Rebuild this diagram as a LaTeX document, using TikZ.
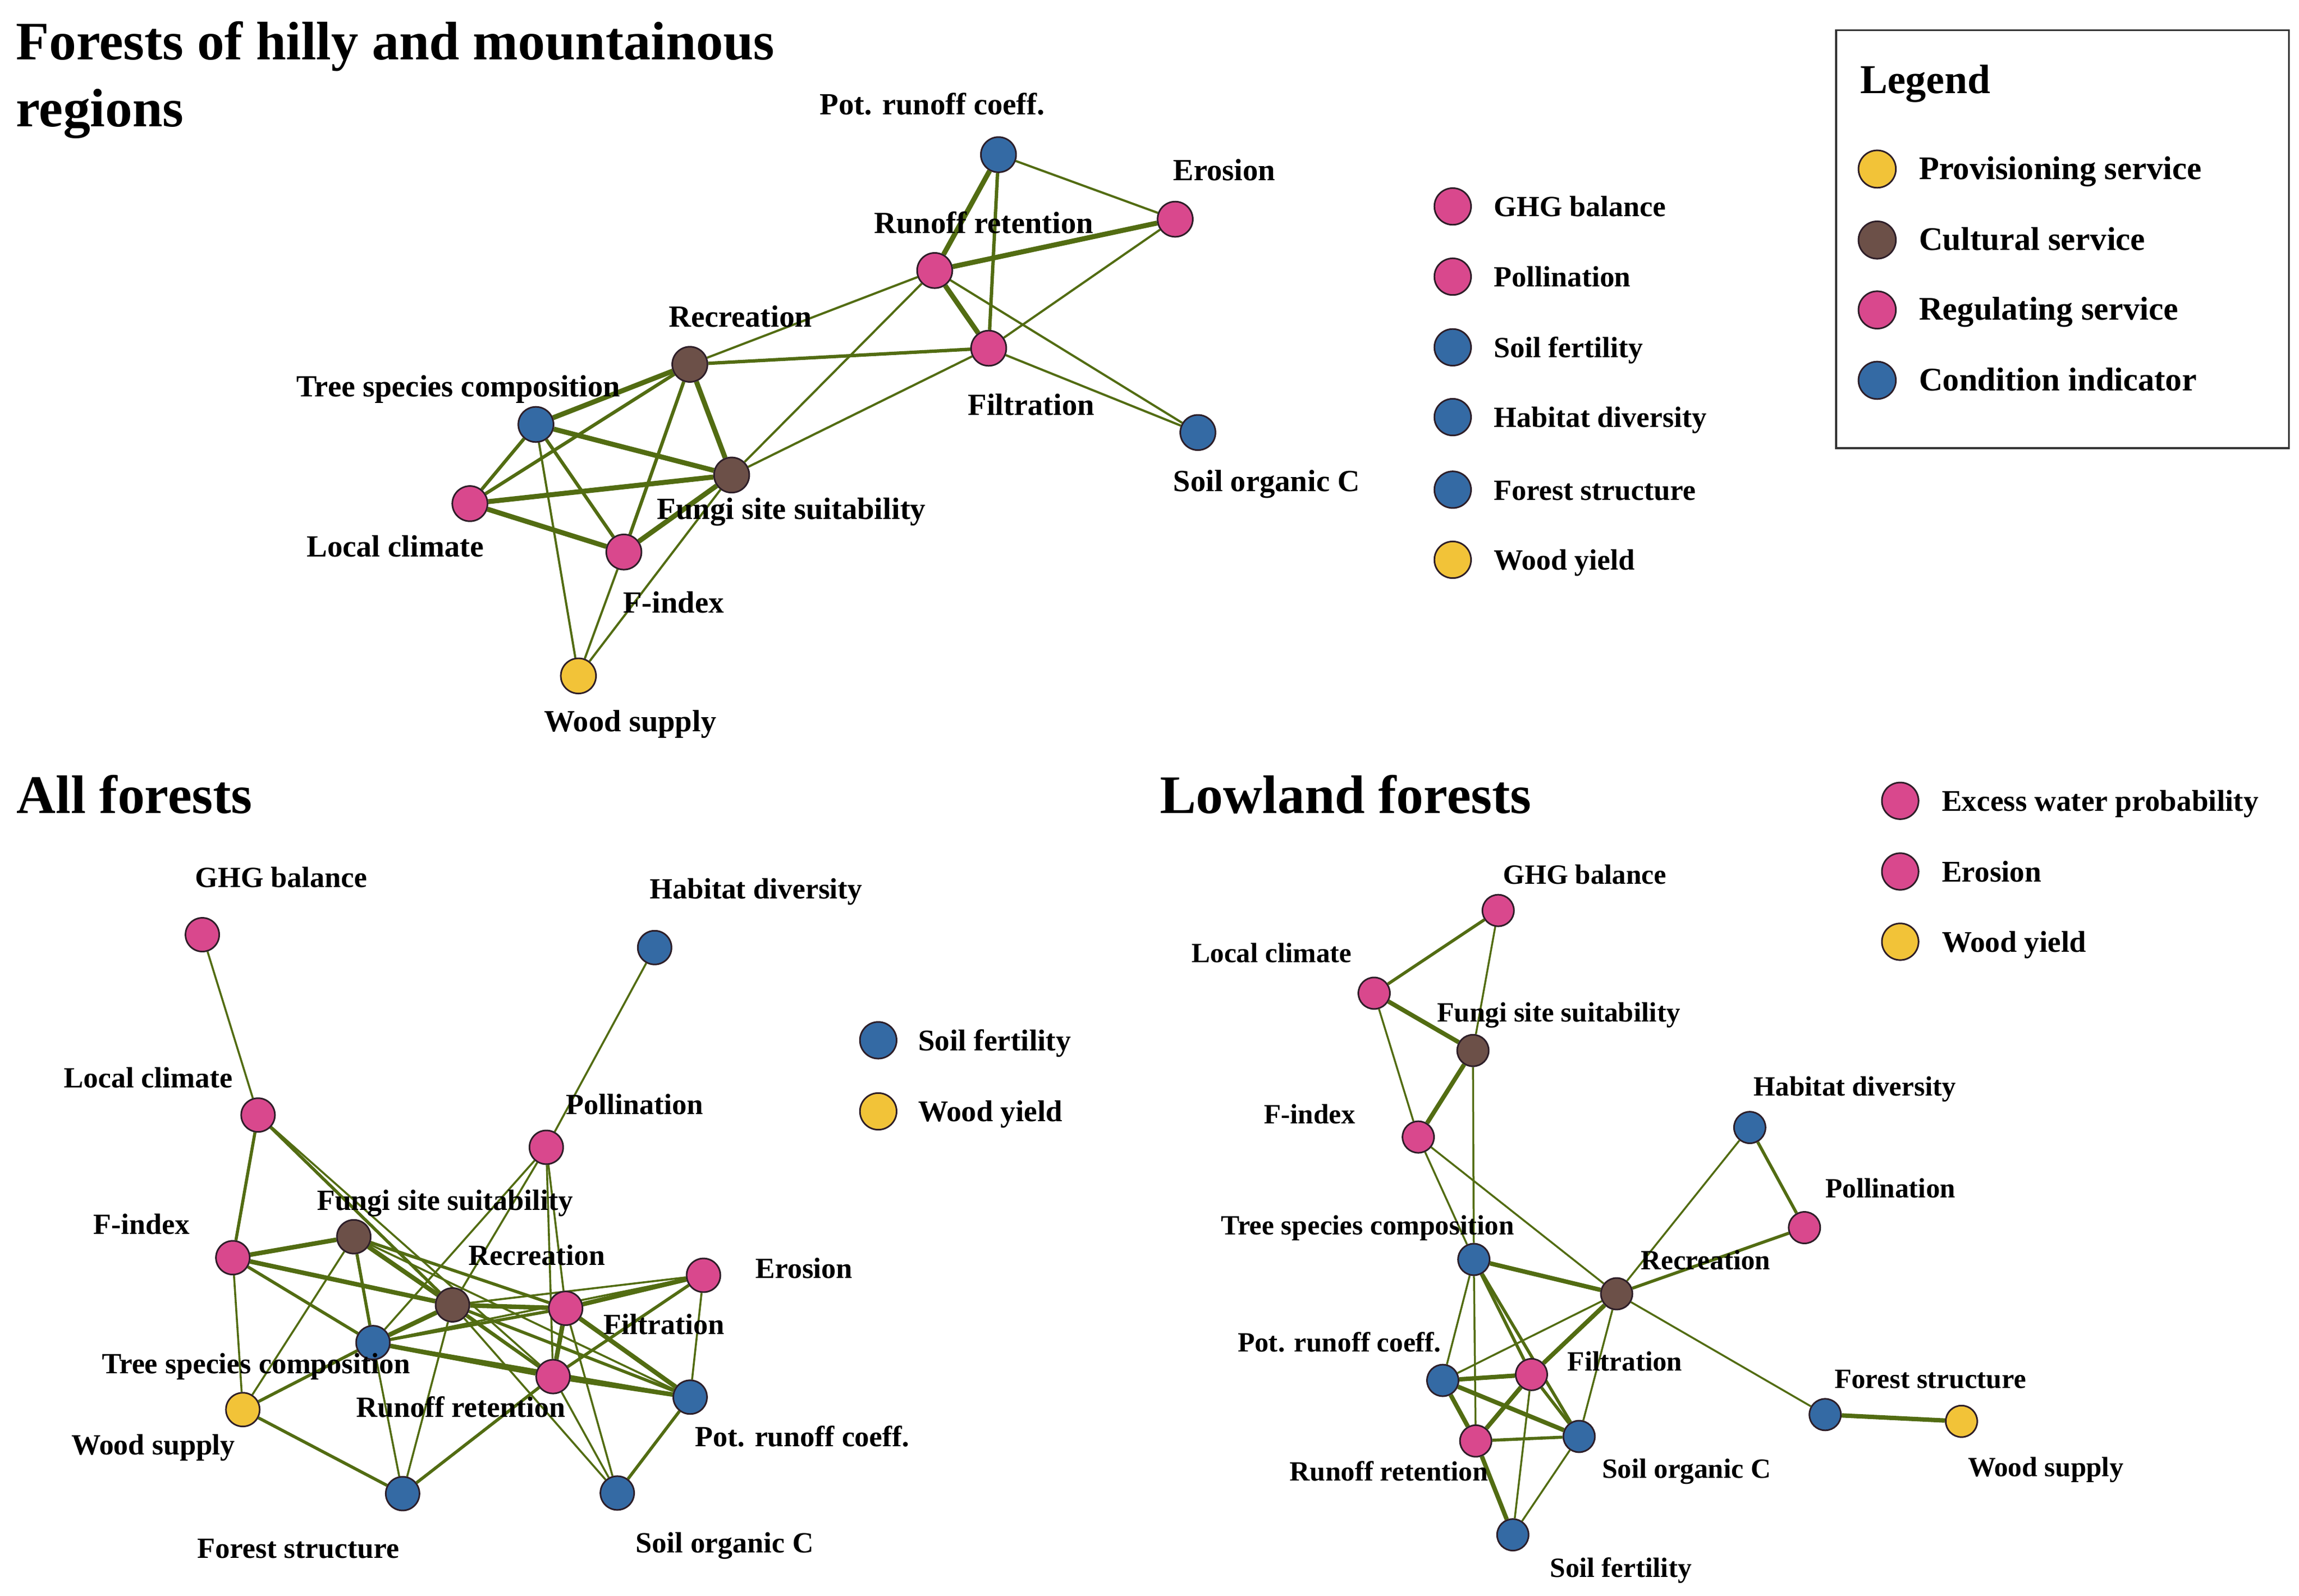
\documentclass[tikz,border=0pt]{standalone}
\usepackage{fontspec}
\setmainfont{Liberation Serif}
\usetikzlibrary{backgrounds}
\definecolor{pinkc}{RGB}{217,72,141}
\definecolor{bluec}{RGB}{52,106,164}
\definecolor{brownc}{RGB}{108,80,72}
\definecolor{yellowc}{RGB}{242,195,56}
\definecolor{edgec}{RGB}{82,108,18}
\definecolor{borderc}{RGB}{45,30,40}
\newcommand\myfs[1]{\fontsize{#1}{#1}\selectfont}
\begin{document}
\begin{tikzpicture}[x=1pt,y=-1pt,
  vtx/.style={circle, draw=borderc, line width=1.1pt, inner sep=0pt, minimum size=24pt},
  nreg/.style={vtx, fill=pinkc},
  ncond/.style={vtx, fill=bluec},
  ncult/.style={vtx, fill=brownc},
  nprov/.style={vtx, fill=yellowc},
  lbl/.style={anchor=base west, inner sep=0pt, text=black},
  ethin/.style={draw=edgec, line width=1.5pt},
  emed/.style={draw=edgec, line width=2.3pt},
  ethick/.style={draw=edgec, line width=3.4pt},
  ttl/.style={lbl, font=\bfseries\myfs{37}}
]
\useasboundingbox (0,0) rectangle (1568,1088.2);
\begin{pgfonlayer}{background}
\fill[white] (0,0) rectangle (1568,1088.2);
\end{pgfonlayer}

% ---------- titles ----------
\node[ttl] (title1) at (10.7,40.6) {Forests of hilly and mountainous};
\node[ttl] (title1b) at (10.7,86.2) {regions};
\node[ttl] (title2) at (11.2,554.6) {All forests};
\node[ttl] (title3) at (791,554.5) {Lowland forests};

% ---------- top graph ----------
\begin{scope}[font=\bfseries\myfs{21}]
\node[ncond] (t-pot) at (681,105.5) {};
\node[nreg]  (t-ero) at (801.5,149.5) {};
\node[nreg]  (t-rr)  at (637.5,184.5) {};
\node[nreg]  (t-fil) at (674.3,237.5) {};
\node[ncond] (t-soc) at (817,295) {};
\node[ncult] (t-rec) at (470.5,248.5) {};
\node[ncond] (t-tsc) at (365.5,289.5) {};
\node[ncult] (t-fun) at (499,324) {};
\node[nreg]  (t-lc)  at (320.5,343.5) {};
\node[nreg]  (t-fi)  at (425.5,376.5) {};
\node[nprov] (t-ws)  at (394.5,461) {};
\node[lbl] (t-pot-l) at (559,78) {Pot. runoff coeff.};
\node[lbl] (t-ero-l) at (800,123) {Erosion};
\node[lbl] (t-rr-l)  at (596,159) {Runoff retention};
\node[lbl] (t-fil-l) at (660,283) {Filtration};
\node[lbl] (t-soc-l) at (800,335) {Soil organic C};
\node[lbl] (t-rec-l) at (456,223) {Recreation};
\node[lbl] (t-tsc-l) at (202,270.6) {Tree species composition};
\node[lbl] (t-fun-l) at (448,354) {Fungi site suitability};
\node[lbl] (t-lc-l)  at (209,379.6) {Local climate};
\node[lbl] (t-fi-l)  at (424.7,418) {F-index};
\node[lbl] (t-ws-l)  at (371,499) {Wood supply};
\begin{pgfonlayer}{background}
\draw[ethick] (t-pot) -- (t-rr);
\draw[ethick] (t-ero) -- (t-rr);
\draw[ethick] (t-rr) -- (t-fil);
\draw[ethick] (t-rec) -- (t-tsc);
\draw[ethick] (t-rec) -- (t-fun);
\draw[ethick] (t-tsc) -- (t-fun);
\draw[ethick] (t-lc) -- (t-fun);
\draw[ethick] (t-lc) -- (t-fi);
\draw[ethick] (t-fi) -- (t-fun);
\draw[emed] (t-pot) -- (t-fil);
\draw[emed] (t-rec) -- (t-fil);
\draw[emed] (t-rec) -- (t-lc);
\draw[emed] (t-rec) -- (t-fi);
\draw[emed] (t-tsc) -- (t-lc);
\draw[emed] (t-tsc) -- (t-fi);
\draw[ethin] (t-pot) -- (t-ero);
\draw[ethin] (t-ero) -- (t-fil);
\draw[ethin] (t-rr) -- (t-soc);
\draw[ethin] (t-fil) -- (t-soc);
\draw[ethin] (t-rr) -- (t-rec);
\draw[ethin] (t-rr) -- (t-fun);
\draw[ethin] (t-fil) -- (t-fun);
\draw[ethin] (t-tsc) -- (t-ws);
\draw[ethin] (t-fi) -- (t-ws);
\draw[ethin] (t-fun) -- (t-ws);
\end{pgfonlayer}
\end{scope}

% ---------- middle legend (top) ----------
\begin{scope}[font=\bfseries\myfs{20}, vtx/.append style={minimum size=25pt}]
\node[nreg]  (m1) at (990.8,140.8) {};
\node[nreg]  (m2) at (990.8,188.7) {};
\node[ncond] (m3) at (990.8,236.9) {};
\node[ncond] (m4) at (990.8,284.5) {};
\node[ncond] (m5) at (990.8,334) {};
\node[nprov] (m6) at (990.8,381.8) {};
\node[lbl] (m1-l) at (1018.7,147.8) {GHG balance};
\node[lbl] (m2-l) at (1018.7,195.7) {Pollination};
\node[lbl] (m3-l) at (1018.7,243.9) {Soil fertility};
\node[lbl] (m4-l) at (1018.7,291.5) {Habitat diversity};
\node[lbl] (m5-l) at (1018.7,341) {Forest structure};
\node[lbl] (m6-l) at (1018.7,388.8) {Wood yield};
\end{scope}

% ---------- main legend ----------
\draw[line width=1.3pt, draw=black!80] (1252.3,20.6) rectangle (1561.2,305.6);
\node[lbl, font=\bfseries\myfs{28}] (leg-t) at (1268.5,63.8) {Legend};
\begin{scope}[font=\bfseries\myfs{22.5}, vtx/.append style={minimum size=25.5pt}]
\node[nprov] (g1) at (1280.3,115.3) {};
\node[ncult] (g2) at (1280.3,163.7) {};
\node[nreg]  (g3) at (1280.3,211.4) {};
\node[ncond] (g4) at (1280.3,259.4) {};
\node[lbl] (g1-l) at (1308.6,122.2) {Provisioning service};
\node[lbl] (g2-l) at (1308.6,170.6) {Cultural service};
\node[lbl] (g3-l) at (1308.6,218.3) {Regulating service};
\node[lbl] (g4-l) at (1308.6,266.3) {Condition indicator};
\end{scope}

% ---------- all forests ----------
\begin{scope}[font=\bfseries\myfs{20}, vtx/.append style={minimum size=23pt},
  ethin/.style={draw=edgec, line width=1.35pt},
  emed/.style={draw=edgec, line width=2.1pt},
  ethick/.style={draw=edgec, line width=3.1pt}]
\node[nreg]  (a-ghg) at (138,637.5) {};
\node[ncond] (a-hab) at (446.5,646.3) {};
\node[nreg]  (a-lc)  at (176,760.5) {};
\node[nreg]  (a-pol) at (372.6,782.5) {};
\node[nreg]  (a-fi)  at (158.8,857.8) {};
\node[ncult] (a-fun) at (241.3,843.5) {};
\node[ncult] (a-rec) at (308.6,890) {};
\node[nreg]  (a-fil) at (385.8,892.3) {};
\node[nreg]  (a-ero) at (479.8,869.8) {};
\node[ncond] (a-tsc) at (254.4,915.7) {};
\node[nreg]  (a-rr)  at (377.2,938.9) {};
\node[ncond] (a-pot) at (470.7,952.9) {};
\node[nprov] (a-ws)  at (165.6,961.4) {};
\node[ncond] (a-fs)  at (274.6,1018.7) {};
\node[ncond] (a-soc) at (421,1018.3) {};
\node[lbl] (a-ghg-l) at (133,605) {GHG balance};
\node[lbl] (a-hab-l) at (443,613) {Habitat diversity};
\node[lbl] (a-lc-l)  at (43.5,742) {Local climate};
\node[lbl] (a-pol-l) at (386,760) {Pollination};
\node[lbl] (a-fi-l)  at (63.6,841.8) {F-index};
\node[lbl] (a-fun-l) at (216,825.4) {Fungi site suitability};
\node[lbl] (a-rec-l) at (319.5,863) {Recreation};
\node[lbl] (a-ero-l) at (515,872) {Erosion};
\node[lbl] (a-fil-l) at (411.6,910) {Filtration};
\node[lbl] (a-tsc-l) at (69.3,937) {Tree species composition};
\node[lbl] (a-rr-l)  at (243,966.6) {Runoff retention};
\node[lbl] (a-pot-l) at (474,986.6) {Pot. runoff coeff.};
\node[lbl] (a-ws-l)  at (48.5,992) {Wood supply};
\node[lbl] (a-fs-l)  at (134.5,1062.7) {Forest structure};
\node[lbl] (a-soc-l) at (433.5,1059) {Soil organic C};
\begin{pgfonlayer}{background}
\draw[ethin] (a-ghg) -- (a-lc);
\draw[ethin] (a-hab) -- (a-pol);
\draw[ethin] (a-fi) -- (a-ws);
\draw[ethin] (a-fun) -- (a-ws);
\draw[ethin] (a-tsc) -- (a-fs);
\draw[ethin] (a-tsc) -- (a-pol);
\draw[ethin] (a-rec) -- (a-pol);
\draw[ethin] (a-rec) -- (a-fs);
\draw[ethin] (a-fil) -- (a-soc);
\draw[ethin] (a-pol) -- (a-fil);
\draw[ethin] (a-pol) -- (a-rr);
\draw[ethin] (a-ero) -- (a-pot);
\draw[ethin] (a-ero) -- (a-rec);
\draw[ethin] (a-ero) -- (a-tsc);
\draw[ethin] (a-rr) -- (a-soc);
\draw[ethin] (a-rec) -- (a-soc);
\draw[ethin] (a-fun) -- (a-pot);
\draw[ethin] (a-lc) -- (a-rr);
\draw[emed] (a-lc) -- (a-fi);
\draw[emed] (a-lc) -- (a-rec);
\draw[emed] (a-fi) -- (a-tsc);
\draw[emed] (a-fun) -- (a-tsc);
\draw[emed] (a-fun) -- (a-fil);
\draw[emed] (a-fun) -- (a-rr);
\draw[emed] (a-tsc) -- (a-ws);
\draw[emed] (a-ws) -- (a-fs);
\draw[emed] (a-tsc) -- (a-fil);
\draw[emed] (a-rec) -- (a-pot);
\draw[emed] (a-rec) -- (a-rr);
\draw[emed] (a-rr) -- (a-ero);
\draw[emed] (a-rr) -- (a-fs);
\draw[emed] (a-pot) -- (a-soc);
\draw[emed] (a-tsc) -- (a-pot);
\draw[ethick] (a-fi) -- (a-fun);
\draw[ethick] (a-fi) -- (a-rec);
\draw[ethick] (a-fun) -- (a-rec);
\draw[ethick] (a-tsc) -- (a-rec);
\draw[ethick] (a-rec) -- (a-fil);
\draw[ethick] (a-fil) -- (a-ero);
\draw[ethick] (a-fil) -- (a-pot);
\draw[ethick] (a-fil) -- (a-rr);
\draw[ethick] (a-rr) -- (a-pot);
\draw[ethick] (a-tsc) -- (a-rr);
\end{pgfonlayer}
\end{scope}

% ---------- all forests legend ----------
\begin{scope}[font=\bfseries\myfs{20.5}, vtx/.append style={minimum size=25pt}]
\node[ncond] (b1) at (599,709.5) {};
\node[nprov] (b2) at (599,758) {};
\node[lbl] (b1-l) at (626,716.5) {Soil fertility};
\node[lbl] (b2-l) at (626,765) {Wood yield};
\end{scope}

% ---------- lowland forests ----------
\begin{scope}[font=\bfseries\myfs{19}, vtx/.append style={minimum size=21.5pt},
  ethin/.style={draw=edgec, line width=1.3pt},
  emed/.style={draw=edgec, line width=2.1pt},
  ethick/.style={draw=edgec, line width=3.0pt}]
\node[nreg]  (l-ghg) at (1021.8,621) {};
\node[nreg]  (l-lc)  at (937.2,677.4) {};
\node[ncult] (l-fun) at (1004.6,716.5) {};
\node[nreg]  (l-fi)  at (967.3,775.5) {};
\node[ncond] (l-hab) at (1193.4,769) {};
\node[nreg]  (l-pol) at (1230.7,837.3) {};
\node[ncond] (l-tsc) at (1005.2,859) {};
\node[ncult] (l-rec) at (1102.6,882.4) {};
\node[ncond] (l-pot) at (984,941.5) {};
\node[nreg]  (l-fil) at (1044.5,937.5) {};
\node[nreg]  (l-rr)  at (1006.5,982.8) {};
\node[ncond] (l-soc) at (1077,979.7) {};
\node[ncond] (l-sf)  at (1031.8,1046.8) {};
\node[ncond] (l-fs)  at (1244.8,964.8) {};
\node[nprov] (l-ws)  at (1337.8,969.4) {};
\node[lbl] (l-ghg-l) at (1025,603) {GHG balance};
\node[lbl] (l-lc-l)  at (812.6,656.5) {Local climate};
\node[lbl] (l-fun-l) at (980,697) {Fungi site suitability};
\node[lbl] (l-fi-l)  at (861.8,766.4) {F-index};
\node[lbl] (l-hab-l) at (1196,747.5) {Habitat diversity};
\node[lbl] (l-pol-l) at (1244.8,817) {Pollination};
\node[lbl] (l-tsc-l) at (832.7,842) {Tree species composition};
\node[lbl] (l-rec-l) at (1119,866) {Recreation};
\node[lbl] (l-pot-l) at (844,922) {Pot. runoff coeff.};
\node[lbl] (l-fil-l) at (1069,935) {Filtration};
\node[lbl] (l-fs-l)  at (1251,947) {Forest structure};
\node[lbl] (l-rr-l)  at (879.5,1010) {Runoff retention};
\node[lbl] (l-soc-l) at (1092.5,1008) {Soil organic C};
\node[lbl] (l-ws-l)  at (1342,1007) {Wood supply};
\node[lbl] (l-sf-l)  at (1057,1075.6) {Soil fertility};
\begin{pgfonlayer}{background}
\draw[ethin] (l-ghg) -- (l-fun);
\draw[ethin] (l-lc) -- (l-fi);
\draw[ethin] (l-fun) -- (l-tsc);
\draw[ethin] (l-fi) -- (l-tsc);
\draw[ethin] (l-fi) -- (l-rec);
\draw[ethin] (l-hab) -- (l-rec);
\draw[ethin] (l-tsc) -- (l-pot);
\draw[ethin] (l-tsc) -- (l-rr);
\draw[ethin] (l-rec) -- (l-pot);
\draw[ethin] (l-rec) -- (l-soc);
\draw[ethin] (l-rec) -- (l-fs);
\draw[ethin] (l-fil) -- (l-sf);
\draw[ethin] (l-soc) -- (l-sf);
\draw[emed] (l-ghg) -- (l-lc);
\draw[emed] (l-hab) -- (l-pol);
\draw[emed] (l-pol) -- (l-rec);
\draw[emed] (l-tsc) -- (l-fil);
\draw[emed] (l-tsc) -- (l-soc);
\draw[emed] (l-fil) -- (l-soc);
\draw[emed] (l-rr) -- (l-soc);
\draw[ethick] (l-lc) -- (l-fun);
\draw[ethick] (l-fun) -- (l-fi);
\draw[ethick] (l-tsc) -- (l-rec);
\draw[ethick] (l-rec) -- (l-fil);
\draw[ethick] (l-fil) -- (l-rr);
\draw[ethick] (l-pot) -- (l-fil);
\draw[ethick] (l-pot) -- (l-rr);
\draw[ethick] (l-pot) -- (l-soc);
\draw[ethick] (l-rr) -- (l-sf);
\draw[ethick] (l-fs) -- (l-ws);
\end{pgfonlayer}
\end{scope}

% ---------- lowland legend ----------
\begin{scope}[font=\bfseries\myfs{20.5}, vtx/.append style={minimum size=25pt}]
\node[nreg]  (c1) at (1296,546.2) {};
\node[nreg]  (c2) at (1296,594.4) {};
\node[nprov] (c3) at (1296,642.3) {};
\node[lbl] (c1-l) at (1324.2,553.2) {Excess water probability};
\node[lbl] (c2-l) at (1324.2,601.4) {Erosion};
\node[lbl] (c3-l) at (1324.2,649.3) {Wood yield};
\end{scope}
\end{tikzpicture}
\end{document}
